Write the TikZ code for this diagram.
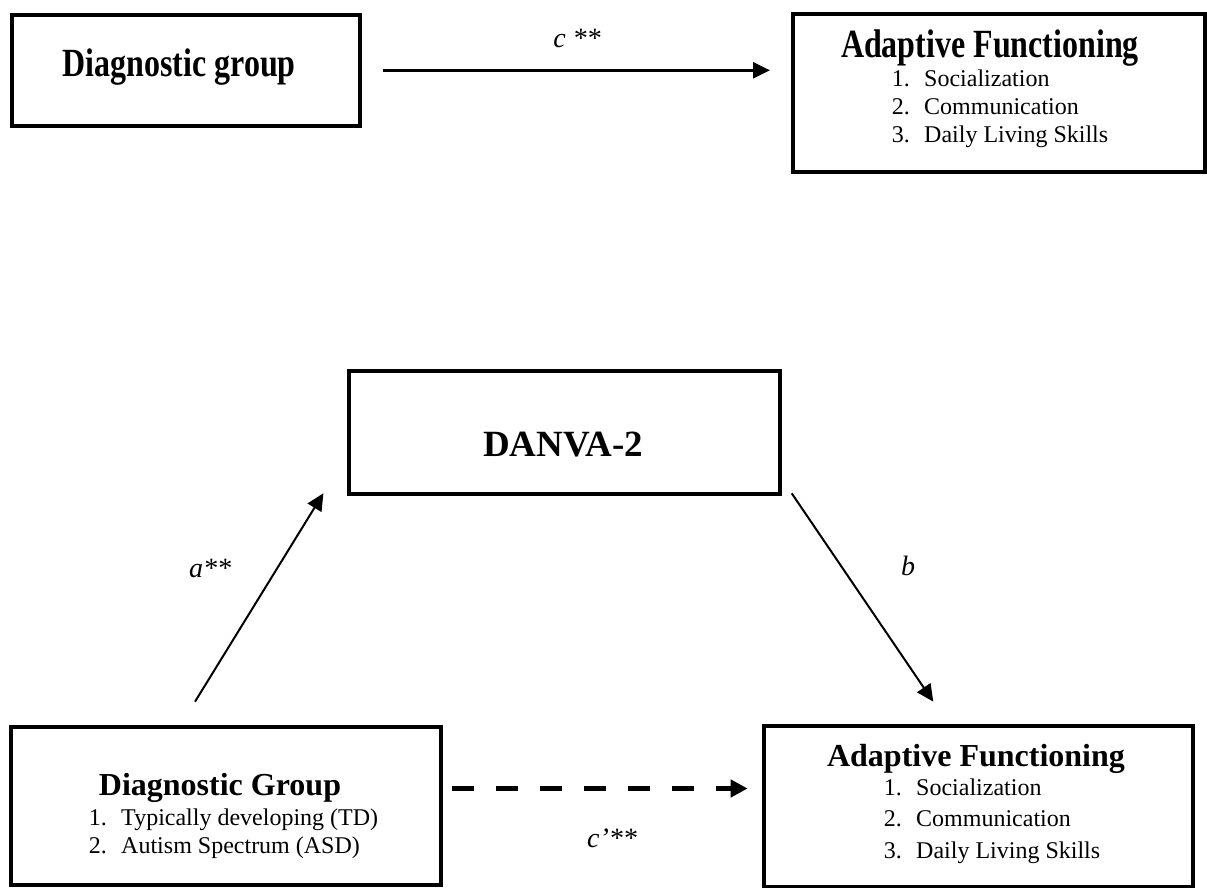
\documentclass[tikz,border=0pt]{standalone}
\usepackage{graphicx}
\usepackage{fontspec}
\setmainfont{Liberation Serif}
\usetikzlibrary{arrows.meta,calc}

\newcommand{\stretched}[1]{\scalebox{1}[1.25]{#1}}

\tikzset{
  varbox/.style={draw, rectangle, line width=2pt, inner sep=0pt, outer sep=0pt},
  varname/.style={font=\fontsize{16}{19}\selectfont\bfseries, anchor=base, inner sep=0pt},
  varlist/.style={font=\fontsize{12}{14}\selectfont, anchor=base, inner sep=0pt},
  effect/.style={line width=1pt, -{Triangle[length=8.5pt,width=8pt]}},
  direct/.style={line width=2.4pt, dash pattern=on 11pt off 11pt, -{Triangle[length=8.5pt,width=8.5pt]}},
  coef/.style={font=\fontsize{14}{17}\selectfont\itshape, anchor=base, inner sep=0pt}
}

\begin{document}
\begin{tikzpicture}[x=0.5pt, y=-0.5pt]
    \useasboundingbox (0,0) rectangle (1207,888);

    % Total effect (top)
    \node[varbox, minimum width=174.4pt, minimum height=55.7pt] (dg1) at (186,70.3) {};
    \node[varname] (dg1name) at (179,77) {\stretched{Diagnostic group}};

    \node[varbox, minimum width=206.25pt, minimum height=78.9pt] (af1) at (998.75,93.1) {};
    \node[varname] (af1name) at (990,58) {\stretched{Adaptive Functioning}};
    \node[varlist] (af1list) at (1000,87) {\begin{tabular}[t]{@{}l@{}}
        1.\hspace{0.6em}Socialization\\
        2.\hspace{0.6em}Communication\\
        3.\hspace{0.6em}Daily Living Skills
    \end{tabular}};

    \draw[effect, line width=1.4pt] ($(dg1.east)+(22.8,0)$) -- ($(dg1.east -| af1.west)+(-22.5,0)$);
    \node[coef] (ctotal) at (577,48) {c **};

    % Mediation model (bottom)
    \node[varbox, minimum width=215.3pt, minimum height=61.2pt] (danva) at (564.4,432.5) {};
    \node[varname, font=\fontsize{18.5}{22}\selectfont\bfseries] (danvaname) at (563,457) {DANVA-2};

    \node[varbox, minimum width=215.25pt, minimum height=79pt] (dg2) at (226,806.2) {};
    \node[varname] (dg2name) at (220,795) {Diagnostic Group};
    \node[varlist] (dg2list) at (233.5,825) {\begin{tabular}[t]{@{}l@{}}
        1.\hspace{0.6em}Typically developing (TD)\\
        2.\hspace{0.6em}Autism Spectrum (ASD)
    \end{tabular}};

    \node[varbox, minimum width=214.75pt, minimum height=80.2pt] (af2) at (978.5,806.4) {};
    \node[varname] (af2name) at (976,766) {Adaptive Functioning};
    \node[varlist] (af2list) at (992,795) {\begin{tabular}[t]{@{}l@{}}
        1.\hspace{0.6em}Socialization\\[1.75pt]
        2.\hspace{0.6em}Communication\\[1.75pt]
        3.\hspace{0.6em}Daily Living Skills
    \end{tabular}};

    % Paths
    \draw[effect] ($(dg2.north)+(-31,-25.5)$) -- ($(danva.south west)+(-25.7,-0.4)$);
    \draw[effect] ($(danva.south east)+(12,-0.4)$) -- ($(af2.north)+(-45.2,-24.5)$);
    \draw[direct] ($(dg2.east)+(10.4,-17.7)$) -- ($(dg2.east -| af2.west)+(-16.1,-17.7)$);

    \node[coef] (apath) at (210,577) {a**};
    \node[coef] (bpath) at (908,575) {b};
    \node[coef] (cprime) at (612,847) {c’**};
\end{tikzpicture}
\end{document}
